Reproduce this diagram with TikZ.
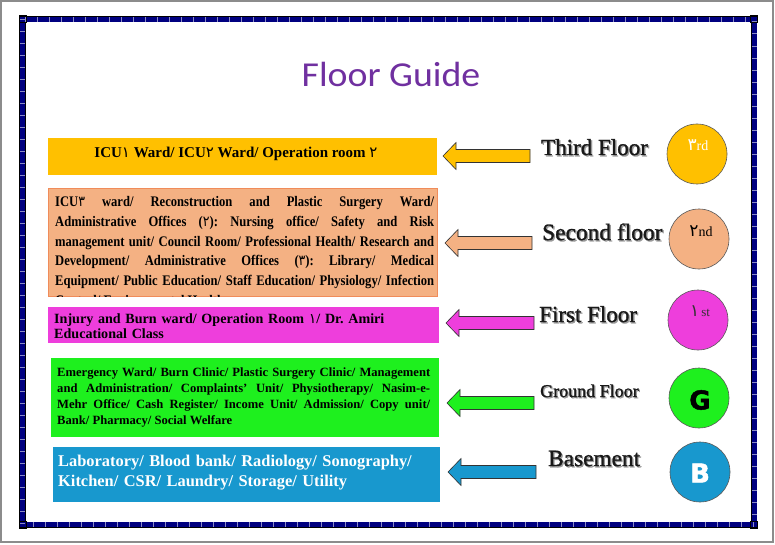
\documentclass[tikz,border=0pt]{standalone}
\usepackage{fontspec}
\setmainfont{Liberation Serif}
\newfontfamily\arfont{DejaVu Sans}
\newfontfamily\titlefont{Carlito}
\newfontfamily\labelfont{Liberation Serif}[FakeBold=1.2]
\newfontfamily\heavyfont{DejaVu Sans Bold}[FakeBold=1.8]
\newcommand\ardig[1]{{\arfont\mdseries #1}}
\newcommand\bigdig[1]{{\arfont\mdseries\fontsize{17}{17}\selectfont #1}}
\definecolor{titlepurple}{HTML}{7030A0}
\definecolor{tfl}{HTML}{FFC000}
\definecolor{sfl}{HTML}{F4B183}
\definecolor{sfledge}{HTML}{F08C5A}
\definecolor{ffl}{HTML}{EE3EDC}
\definecolor{gfl}{HTML}{1EF01E}
\definecolor{bfl}{HTML}{1898CE}
\definecolor{navyb}{HTML}{000080}
\newcommand\floorarrow[4]{%
  \draw[arrowline, fill=#4] (#1,#2) -- (#1+13,#2-13.5) -- (#1+13,#2-6.5) -- (#3,#2-6.5)
    -- (#3,#2+6.5) -- (#1+13,#2+6.5) -- (#1+13,#2+13.5) -- cycle;}
\begin{document}
\begin{tikzpicture}[x=1pt,y=-1pt,
  arrowline/.style={draw=black!80, line width=0.6pt, line join=miter},
  floorcircle/.style={circle, minimum size=60pt, inner sep=0pt, draw=black!65, line width=0.6pt},
  boxtext/.style={inner sep=0pt, font=\bfseries},
  floorlabel/.style={anchor=base west, inner sep=0pt, text=black!90},
  labelshadow/.style={anchor=base west, inner sep=0pt, text=black!40},
]
\useasboundingbox (0,0) rectangle (775,545);
\fill[white] (0,0) rectangle (775,545);
% outer screen frame
\draw[black!45, line width=2pt] (1,1) rectangle (773,541.5);
% page border
\draw[black, line width=6.4pt] (22.5,19.2) rectangle (754.2,524.8);
\draw[navyb, line width=5pt] (22.5,19.2) rectangle (754.2,524.8);
\draw[white, line width=5pt, dash pattern=on 0.6pt off 11.4pt, opacity=0.55] (22.5,19.2) rectangle (754.2,524.8);
\foreach \cx/\cy in {22.5/19.2, 754.2/19.2, 22.5/524.8, 754.2/524.8}
  \draw[black, line width=0.8pt] (\cx-3.5,\cy-3.5) rectangle (\cx+3.5,\cy+3.5);

% title
\node[anchor=base, inner sep=0pt, text=titlepurple, xscale=1.08, transform shape,
  font=\titlefont\fontsize{35}{35}\selectfont] (title) at (391,87) {Floor Guide};

% boxes
\fill[tfl] (48,138) rectangle (437,175);
\node[boxtext, anchor=base, font=\bfseries\fontsize{15}{16}\selectfont] (t3) at (236,158)
  {ICU\ardig{١} Ward/ ICU\ardig{٢} Ward/ Operation room \ardig{٢}};

\filldraw[fill=sfl, draw=sfledge, line width=0.6pt] (48,188) rectangle (437.5,296.5);
\begin{scope}
\clip (48.5,188.5) rectangle (437,296);
\node[boxtext, anchor=base west, text width=379pt, align=justify, yscale=1.16, transform shape,
  font=\bfseries\fontsize{12.6}{17.07}\selectfont] (t2) at (55,206.5)
  {\tolerance=10000\hyphenpenalty=10000\frenchspacing
   ICU\ardig{٣} ward/ Reconstruction and Plastic Surgery Ward/\linebreak
   Administrative Offices (\ardig{٢}): Nursing office/ Safety and Risk\linebreak
   management unit/ Council Room/ Professional Health/ Research and\linebreak
   Development/ Administrative Offices (\ardig{٣}): Library/ Medical\linebreak
   Equipment/ Public Education/ Staff Education/ Physiology/ Infection\linebreak
   Control/ Environmental Health};
\end{scope}

\fill[ffl] (48,307) rectangle (439,343);
\node[boxtext, anchor=base west, text width=380pt, align=left,
  font=\bfseries\fontsize{14.1}{15}\selectfont] (t1) at (54,323)
  {\frenchspacing Injury and Burn ward/ Operation Room \ardig{١}/ Dr. Amiri\\ Educational Class};

\fill[gfl] (51,358) rectangle (439,437);
\node[boxtext, anchor=base west, text width=373pt, align=justify,
  font=\bfseries\fontsize{12.6}{16.1}\selectfont] (tg) at (57,376)
  {\tolerance=10000\hyphenpenalty=10000
   Emergency Ward/ Burn Clinic/ Plastic Surgery Clinic/ Management\linebreak
   and Administration/ Complaints’ Unit/ Physiotherapy/ Nasim-e-\linebreak
   Mehr Office/ Cash Register/ Income Unit/ Admission/ Copy unit/\linebreak
   Bank/ Pharmacy/ Social Welfare};

\fill[bfl] (52.5,447) rectangle (440,502);
\node[boxtext, anchor=base west, text width=380pt, align=left, text=white,
  font=\bfseries\fontsize{16.4}{20}\selectfont] (tb) at (58,466.5)
  {Laboratory/ Blood bank/ Radiology/ Sonography/\\ Kitchen/ CSR/ Laundry/ Storage/ Utility};

% arrows
\floorarrow{443}{156}{530}{tfl}
\floorarrow{445}{243}{532}{sfl}
\floorarrow{446}{323}{534}{ffl}
\floorarrow{447}{403}{534}{gfl}
\floorarrow{448}{472}{536}{bfl}

% floor labels
\node[labelshadow, font=\labelfont\fontsize{23}{23}\selectfont] (l3s) at (542.3,156.3) {Third Floor};
\node[floorlabel, font=\labelfont\fontsize{23}{23}\selectfont] (l3) at (541,155) {Third Floor};
\node[labelshadow, font=\labelfont\fontsize{23.4}{23}\selectfont] (l2s) at (543.3,241.3) {Second floor};
\node[floorlabel, font=\labelfont\fontsize{23.4}{23}\selectfont] (l2) at (542,240) {Second floor};
\node[labelshadow, font=\labelfont\fontsize{23}{23}\selectfont] (l1s) at (540.3,323.3) {First Floor};
\node[floorlabel, font=\labelfont\fontsize{23}{23}\selectfont] (l1) at (539,322) {First Floor};
\node[labelshadow, font=\labelfont\fontsize{18}{18}\selectfont] (lgs) at (541.2,398.2) {Ground Floor};
\node[floorlabel, font=\labelfont\fontsize{18}{18}\selectfont] (lg) at (540,397) {Ground Floor};
\node[labelshadow, font=\labelfont\fontsize{23.3}{23}\selectfont] (lbs) at (549.3,467.3) {Basement};
\node[floorlabel, font=\labelfont\fontsize{23.3}{23}\selectfont] (lb) at (548,466) {Basement};

% circles
\node[floorcircle, fill=tfl] (c3) at (697,154) {};
\node[floorcircle, fill=sfl] (c2) at (699,239) {};
\node[floorcircle, fill=ffl] (c1) at (698,320) {};
\node[floorcircle, fill=gfl] (cg) at (699,398) {};
\node[floorcircle, fill=bfl] (cb) at (700,472) {};
\node[inner sep=0pt, anchor=base, text=white, font=\fontsize{14}{14}\selectfont] (n3) at (698,151) {\bigdig{٣}rd};
\node[inner sep=0pt, anchor=base, text=black, font=\fontsize{14}{14}\selectfont] (n2) at (701,236) {\bigdig{٢}nd};
\node[inner sep=0pt, anchor=base, text=black!80, font=\fontsize{13}{13}\selectfont] (n1) at (700,316) {\bigdig{١}\,st};
\node[inner sep=0pt, text=black, font=\heavyfont\fontsize{26}{26}\selectfont] (ng) at (700,400) {G};
\node[inner sep=0pt, text=white, font=\heavyfont\fontsize{26}{26}\selectfont] (nb) at (700,473) {B};
\end{tikzpicture}
\end{document}
